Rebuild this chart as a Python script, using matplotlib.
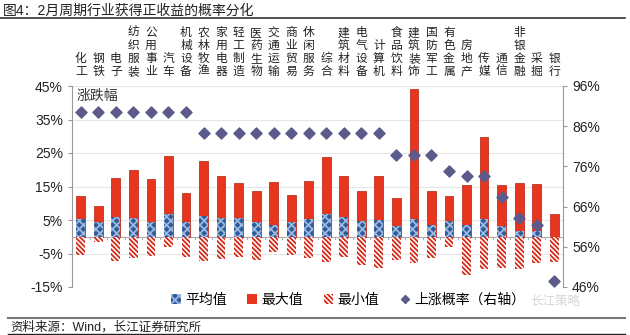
import matplotlib
matplotlib.use("Agg")
import matplotlib.pyplot as plt
import matplotlib.ticker as mticker
from matplotlib.patches import Patch
from matplotlib.lines import Line2D
import matplotlib.transforms as mtrans
import numpy as np

INDUSTRIES = ["化工", "钢铁", "电子", "纺织服装", "公用事业", "汽车", "机械设备",
              "农林牧渔", "家用电器", "轻工制造", "医药生物", "交通运输", "商业贸易",
              "休闲服务", "综合", "建筑材料", "电气设备", "计算机", "食品饮料",
              "建筑装饰", "国防军工", "有色金属", "房地产", "传媒", "通信",
              "非银金融", "采掘", "银行"]
AVG = [5.3, 4.3, 5.9, 5.5, 4.5, 6.8, 4.5, 6.1, 5.5, 5.5, 4.5, 3.6, 4.5, 5.3,
       6.9, 5.9, 4.8, 5.0, 3.3, 5.3, 3.6, 4.8, 3.6, 5.3, 3.1, 1.8, 1.8, 0.0]
MAX = [12.3, 9.3, 17.5, 20.0, 17.1, 24.2, 13.2, 22.6, 18.2, 16.0, 13.7, 16.2, 12.5, 16.6,
       23.7, 18.0, 13.7, 18.0, 11.5, 44.1, 13.7, 12.2, 15.3, 29.9, 15.3, 16.0, 15.8, 6.8]
MIN = [-5.4, -1.6, -7.1, -6.4, -5.6, -3.1, -6.1, -7.1, -6.7, -6.1, -6.9, -4.6, -5.4, -6.4,
       -7.4, -5.9, -8.4, -9.2, -6.9, -7.7, -6.4, -3.1, -11.3, -9.6, -9.2, -9.6, -7.7, -7.5]
UP_PROB = [89.5, 89.5, 89.5, 89.5, 89.5, 89.5, 89.5, 84.2, 84.2, 84.2, 84.2, 84.2, 84.2, 84.2,
           84.2, 84.2, 84.2, 84.2, 78.9, 78.9, 78.9, 74.8, 73.7, 73.7, 68.4, 63.2, 61.4, 47.4]

plt.rcParams.update({
    "font.family": ["Liberation Sans", "Noto Sans CJK SC", "DejaVu Sans"],
    "font.size": 9,
    "axes.edgecolor": "#999999",
    "hatch.linewidth": 1.3,
})

RED = "#e8361e"
BLUE = "#2d5c9c"
PURPLE = "#5c5a8a"
MIN_HATCH = "\\" * 7
W, H = 630, 335

fig = plt.figure(figsize=(W / 100, H / 100), dpi=100)
ax = fig.add_axes([72 / W, 1 - 287 / H, (563 - 72) / W, (287 - 86) / H])
ax2 = ax.twinx()

x = np.arange(len(INDUSTRIES))
bw = 0.5
ax.bar(x, MAX, bw, color=RED, edgecolor="#b02010", linewidth=0.5, zorder=2)
ax.bar(x, AVG, bw, color=BLUE, edgecolor="#9db8dc", hatch="xxxx", linewidth=0, zorder=3)
ax.bar(x, MIN, bw, color="white", edgecolor="#d42a18", hatch=MIN_HATCH, linewidth=0, zorder=2)
ax2.scatter(x, UP_PROB, marker="D", s=32, color=PURPLE, zorder=4)

ax.set_xlim(-0.5, len(INDUSTRIES) - 0.5)
ax.set_ylim(-15, 45)
ax.set_yticks(np.arange(-15, 46, 10))
ax.yaxis.set_major_formatter(mticker.FormatStrFormatter("%d%%"))
ax.grid(axis="y", color="#e6e6e6", linewidth=0.8, zorder=0)
ax.set_axisbelow(True)
ax.set_xticks([])
ax.axhline(0, color="#aaaaaa", linewidth=0.8, zorder=1)
for xi in np.arange(-0.5, len(INDUSTRIES), 1.0):
    ax.plot([xi, xi], [0, -0.8], color="#aaaaaa", linewidth=0.7, zorder=1)

ax2.set_ylim(46, 96)
ax2.set_yticks(np.arange(46, 97, 10))
ax2.yaxis.set_major_formatter(mticker.FormatStrFormatter("%d%%"))
ax2.set_zorder(ax.get_zorder() + 1)

for a in (ax, ax2):
    a.spines["top"].set_visible(False)
    a.spines["bottom"].set_visible(False)
    a.tick_params(axis="y", labelsize=10, colors="#222222", length=3, color="#999999")
ax.spines["right"].set_visible(False)
ax2.spines["left"].set_visible(False)

ax.text(0.01, 0.985, "涨跌幅", transform=ax.transAxes, fontsize=10, va="top", ha="left", color="#333333")

trans = mtrans.blended_transform_factory(ax.transData, ax.transAxes)
for xi, name in zip(x, INDUSTRIES):
    ax.text(xi, 1.04, "\n".join(name), transform=trans, ha="center", va="bottom",
            fontsize=8.5, linespacing=1.1, color="#222222")

handles = [
    Patch(facecolor=BLUE, edgecolor="#9db8dc", hatch="xxxx", linewidth=0, label="平均值"),
    Patch(facecolor=RED, label="最大值"),
    Patch(facecolor="white", edgecolor="#d42a18", hatch=MIN_HATCH, linewidth=0, label="最小值"),
    Line2D([], [], marker="D", color=PURPLE, linestyle="none", markersize=4, label="上涨概率（右轴）"),
]
fig.legend(handles=handles, loc="center", bbox_to_anchor=(348 / W, 1 - 300 / H), ncol=4,
           frameon=False, fontsize=10, handlelength=0.7, handleheight=0.7,
           handletextpad=0.3, columnspacing=1.5)

fig.text(3 / W, 1 - 11 / H, "图4：2月周期行业获得正收益的概率分化", fontsize=10, va="center", color="#222222")
fig.add_artist(Line2D([0, 625 / W], [1 - 18 / H] * 2, color="#333333", linewidth=1.2))
fig.add_artist(Line2D([8 / W, 625 / W], [1 - 318 / H] * 2, color="#777777", linewidth=1.5))
fig.add_artist(Line2D([8 / W, 625 / W], [1 - 334 / H] * 2, color="#222222", linewidth=1.0))
fig.text(10 / W, 1 - 327 / H, "资料来源：Wind，长江证券研究所", fontsize=9, va="center", color="#222222")
# faint watermark, as in the source image
fig.text(530 / W, 1 - 302 / H, "长江策略", fontsize=9, va="center", color="#cccccc", alpha=0.8)

fig.savefig("out.png", dpi=100, facecolor="white")
